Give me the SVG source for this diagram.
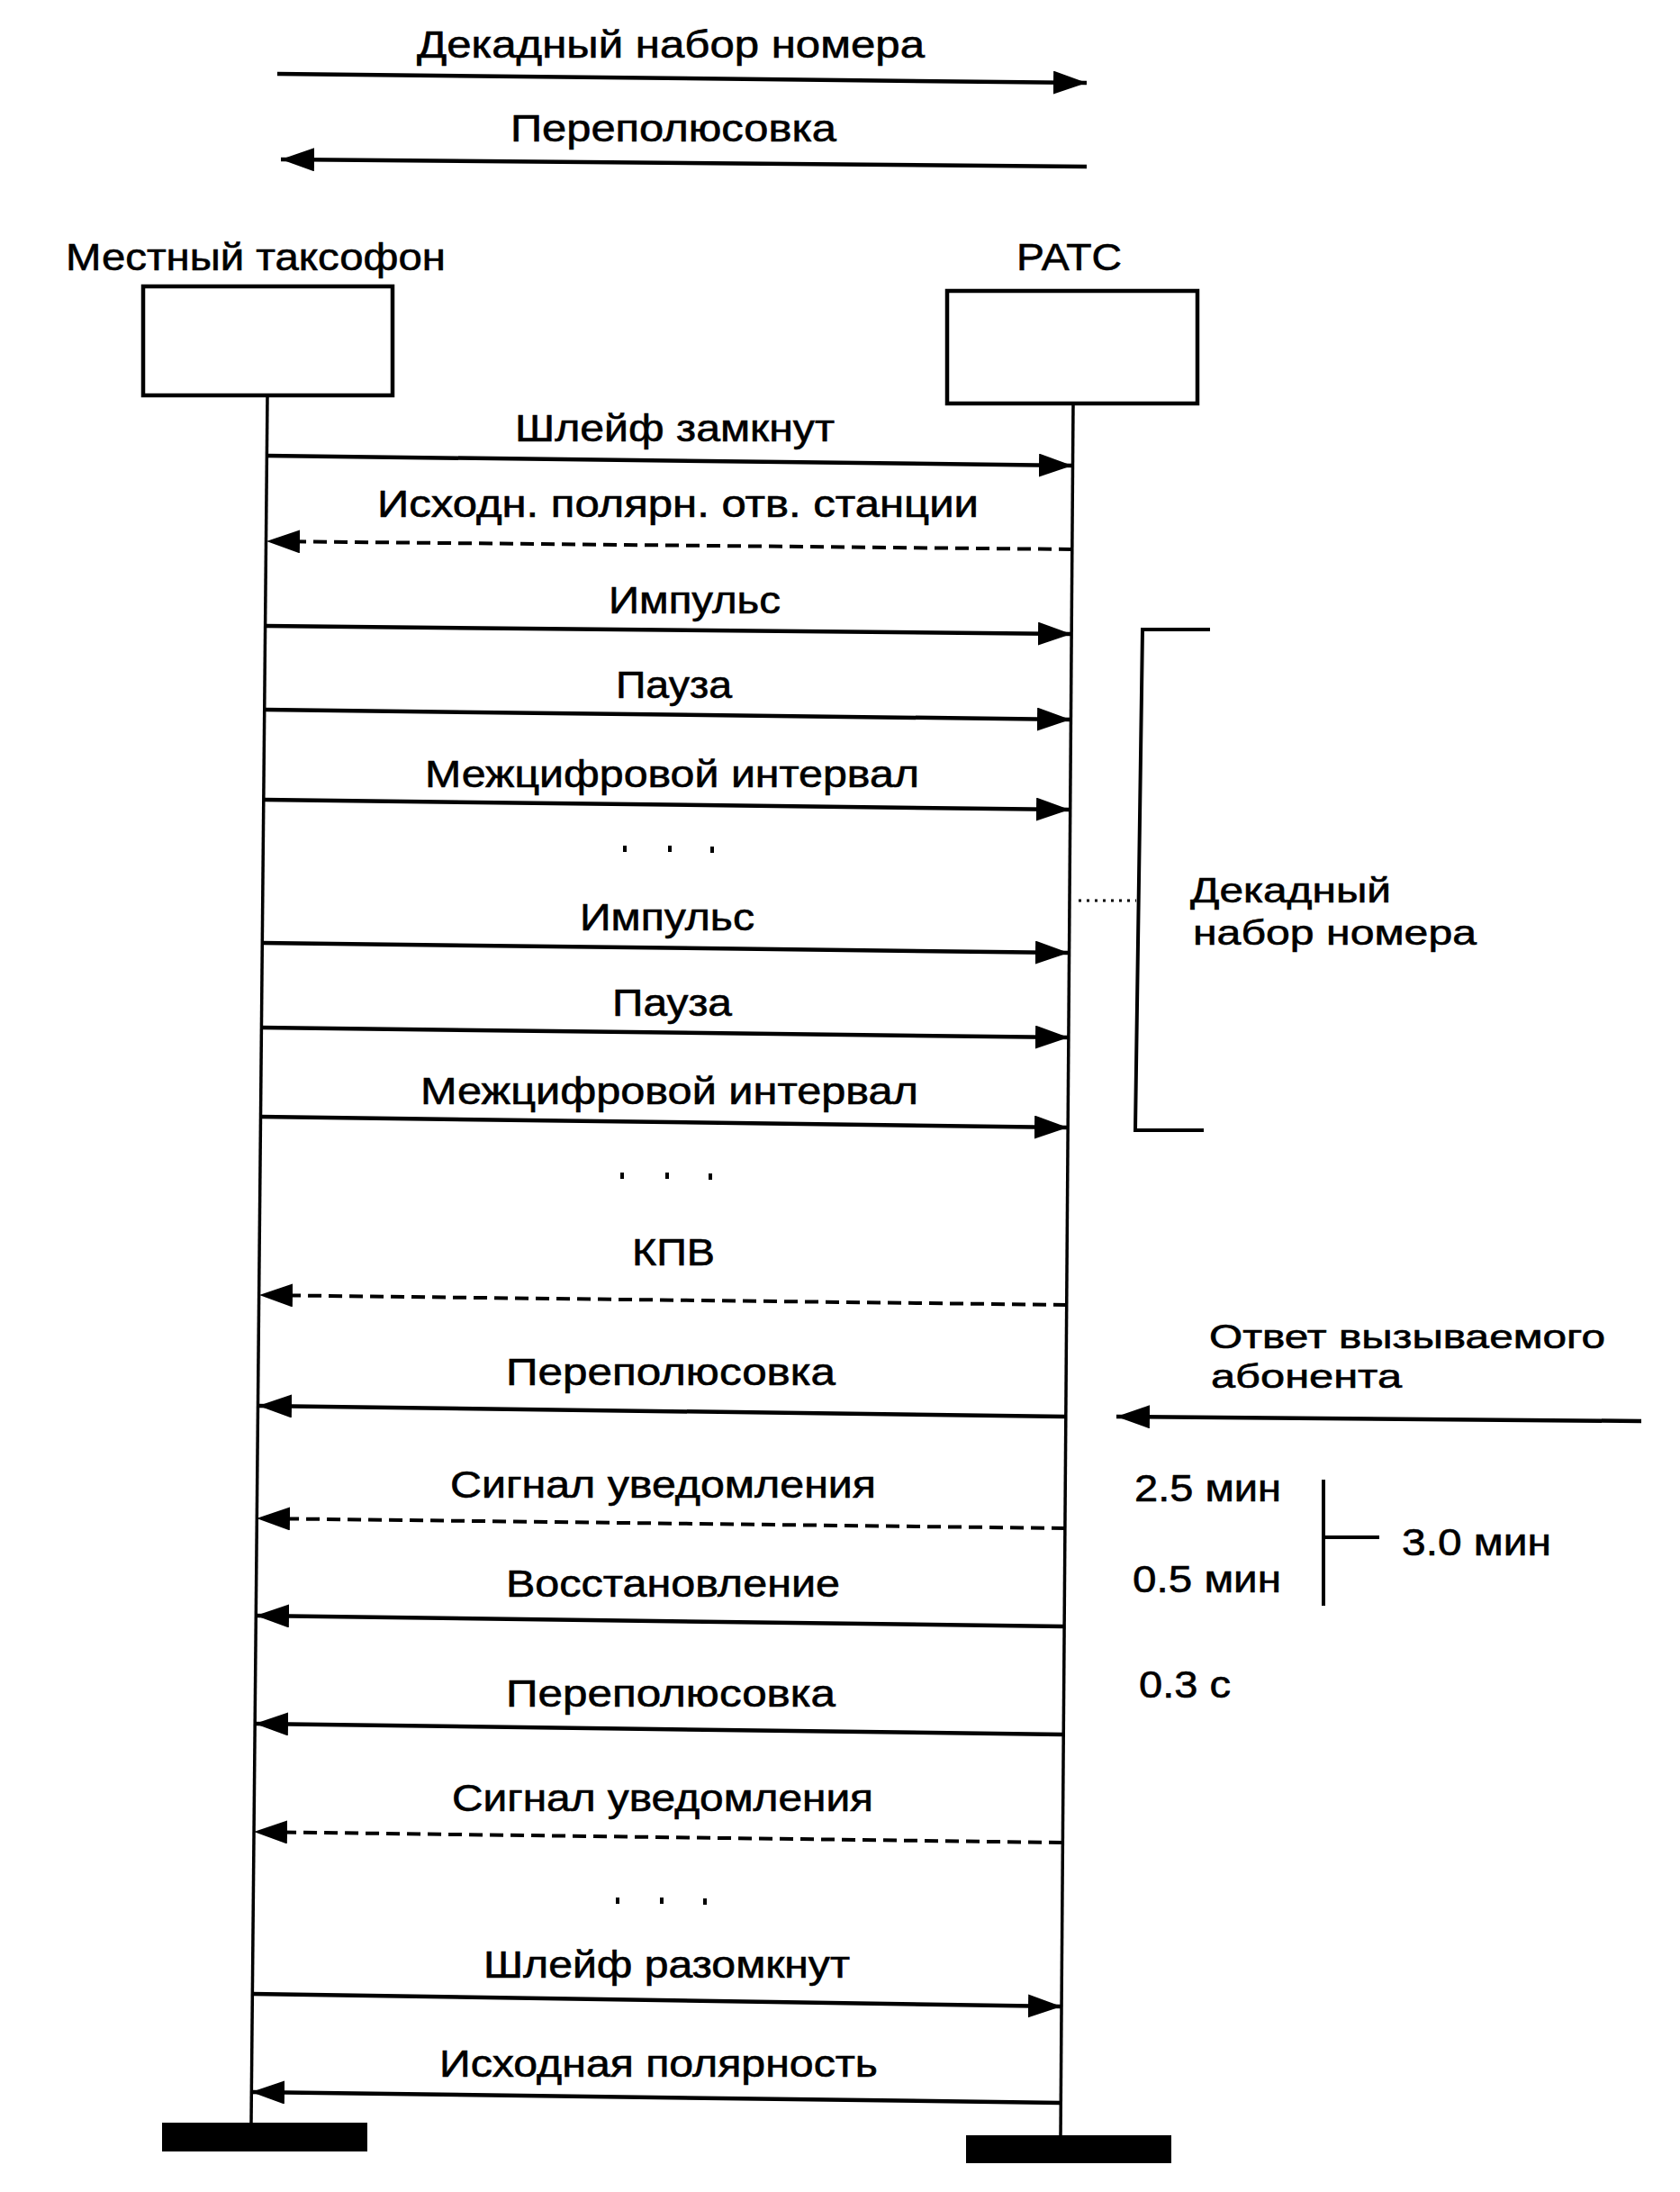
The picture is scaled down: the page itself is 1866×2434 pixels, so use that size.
<svg xmlns="http://www.w3.org/2000/svg" width="1866" height="2434" viewBox="0 0 1866 2434">
<style>
  text { font-family: "Liberation Sans", Arial, "Noto Sans", sans-serif; font-size: 42px; fill: #000; stroke: #000; stroke-width: 0.6; }
  text.two { font-size: 39px; }
  text.two2 { font-size: 37px; }
  .box { fill: #fff; stroke: #000; stroke-width: 4.5; }
  .life { stroke: #000; stroke-width: 3.5; fill: none; }
  .bar { fill: #000; }
  .msg { stroke: #000; stroke-width: 4.5; fill: none; marker-end: url(#ah); }
  .dash { stroke-dasharray: 15 8; stroke-width: 4; }
  .brk { stroke: #000; stroke-width: 4; fill: none; }
  .dot { fill: #000; }
</style>
<defs>
  <marker id="ah" markerUnits="userSpaceOnUse" markerWidth="40" markerHeight="28" refX="37" refY="13" orient="auto">
    <path d="M0,0 L37,13 L0,26 z" fill="#000"/>
  </marker>
</defs>
<rect width="1866" height="2434" fill="#fff"/>

<g id="legend">
  <text x="463" y="64" textLength="564" lengthAdjust="spacingAndGlyphs">Декадный набор номера</text>
  <text x="567" y="157" textLength="362" lengthAdjust="spacingAndGlyphs">Переполюсовка</text>
</g>

<g id="node-taksofon">
  <text x="73" y="300" textLength="422" lengthAdjust="spacingAndGlyphs">Местный таксофон</text>
  <rect class="box" x="159" y="318" width="277" height="121"/>
  <line class="life" x1="297" y1="440" x2="279" y2="2358"/>
  <rect class="bar" x="180" y="2357" width="228" height="32"/>
</g>

<g id="node-rats">
  <text x="1129" y="300" textLength="117" lengthAdjust="spacingAndGlyphs">РАТС</text>
  <rect class="box" x="1052" y="323" width="278" height="125"/>
  <line class="life" x1="1192" y1="449" x2="1178" y2="2372"/>
  <rect class="bar" x="1073" y="2371" width="228" height="31"/>
</g>

<g id="connectors">
  <line class="msg" x1="308" y1="82" x2="1207" y2="92"/>
  <line class="msg" x1="1207" y1="185" x2="312" y2="177"/>

  <line class="msg" x1="296" y1="506" x2="1191" y2="517"/>
  <line class="msg dash" x1="1191" y1="610" x2="296" y2="601"/>
  <line class="msg" x1="295" y1="695" x2="1190" y2="704"/>
  <line class="msg" x1="294" y1="788" x2="1189" y2="799"/>
  <line class="msg" x1="293" y1="888" x2="1188" y2="899"/>
  <line class="msg" x1="291" y1="1047" x2="1187" y2="1058"/>
  <line class="msg" x1="290" y1="1141" x2="1187" y2="1152"/>
  <line class="msg" x1="289" y1="1240" x2="1186" y2="1252"/>
  <line class="msg dash" x1="1185" y1="1449" x2="288" y2="1438"/>
  <line class="msg" x1="1184" y1="1573" x2="287" y2="1561"/>
  <line class="msg dash" x1="1183" y1="1697" x2="285" y2="1686"/>
  <line class="msg" x1="1182" y1="1806" x2="284" y2="1794"/>
  <line class="msg" x1="1181" y1="1926" x2="283" y2="1914"/>
  <line class="msg dash" x1="1180" y1="2046" x2="282" y2="2034"/>
  <line class="msg" x1="280" y1="2214" x2="1179" y2="2228"/>
  <line class="msg" x1="1178" y1="2335" x2="279" y2="2323"/>

  <line class="msg" x1="1823" y1="1578" x2="1240" y2="1573"/>

  <path class="brk" d="M1344,699 L1269,699 L1261,1255 L1337,1255"/>
  <line x1="1198" y1="1000" x2="1262" y2="1000" stroke="#000" stroke-width="3" stroke-dasharray="3 6"/>
  <line class="brk" x1="1470" y1="1643" x2="1470" y2="1783"/>
  <line class="brk" x1="1470" y1="1707" x2="1532" y2="1707"/>
</g>

<g id="labels">
  <text x="572" y="490" textLength="355" lengthAdjust="spacingAndGlyphs">Шлейф замкнут</text>
  <text x="419" y="574" textLength="668" lengthAdjust="spacingAndGlyphs">Исходн. полярн. отв. станции</text>
  <text x="676" y="681" textLength="191" lengthAdjust="spacingAndGlyphs">Импульс</text>
  <text x="684" y="775" textLength="129" lengthAdjust="spacingAndGlyphs">Пауза</text>
  <text x="472" y="874" textLength="549" lengthAdjust="spacingAndGlyphs">Межцифровой интервал</text>
  <text x="644" y="1033" textLength="194" lengthAdjust="spacingAndGlyphs">Импульс</text>
  <text x="680" y="1128" textLength="133" lengthAdjust="spacingAndGlyphs">Пауза</text>
  <text x="467" y="1226" textLength="553" lengthAdjust="spacingAndGlyphs">Межцифровой интервал</text>
  <text x="702" y="1405" textLength="92" lengthAdjust="spacingAndGlyphs">КПВ</text>
  <text x="562" y="1538" textLength="366" lengthAdjust="spacingAndGlyphs">Переполюсовка</text>
  <text x="500" y="1663" textLength="473" lengthAdjust="spacingAndGlyphs">Сигнал уведомления</text>
  <text x="562" y="1773" textLength="371" lengthAdjust="spacingAndGlyphs">Восстановление</text>
  <text x="562" y="1895" textLength="366" lengthAdjust="spacingAndGlyphs">Переполюсовка</text>
  <text x="502" y="2011" textLength="468" lengthAdjust="spacingAndGlyphs">Сигнал уведомления</text>
  <text x="537" y="2196" textLength="407" lengthAdjust="spacingAndGlyphs">Шлейф разомкнут</text>
  <text x="488" y="2306" textLength="487" lengthAdjust="spacingAndGlyphs">Исходная полярность</text>

  <text class="two" x="1322" y="1002" textLength="223" lengthAdjust="spacingAndGlyphs">Декадный</text>
  <text class="two" x="1325" y="1049" textLength="315" lengthAdjust="spacingAndGlyphs">набор номера</text>
  <text class="two2" x="1343" y="1497" textLength="440" lengthAdjust="spacingAndGlyphs">Ответ вызываемого</text>
  <text class="two2" x="1345" y="1541" textLength="212" lengthAdjust="spacingAndGlyphs">абонента</text>
  <text x="1260" y="1667" textLength="163" lengthAdjust="spacingAndGlyphs">2.5 мин</text>
  <text x="1557" y="1727" textLength="166" lengthAdjust="spacingAndGlyphs">3.0 мин</text>
  <text x="1258" y="1768" textLength="165" lengthAdjust="spacingAndGlyphs">0.5 мин</text>
  <text x="1265" y="1885" textLength="102" lengthAdjust="spacingAndGlyphs">0.3 с</text>
</g>

<g id="ellipses">
  <rect class="dot" x="692" y="939" width="4" height="7"/>
  <rect class="dot" x="742" y="939" width="4" height="7"/>
  <rect class="dot" x="789" y="940" width="4" height="7"/>
  <rect class="dot" x="689" y="1302" width="4" height="7"/>
  <rect class="dot" x="739" y="1302" width="4" height="7"/>
  <rect class="dot" x="787" y="1303" width="4" height="7"/>
  <rect class="dot" x="684" y="2107" width="4" height="7"/>
  <rect class="dot" x="733" y="2107" width="4" height="7"/>
  <rect class="dot" x="781" y="2108" width="4" height="7"/>
</g>
</svg>
